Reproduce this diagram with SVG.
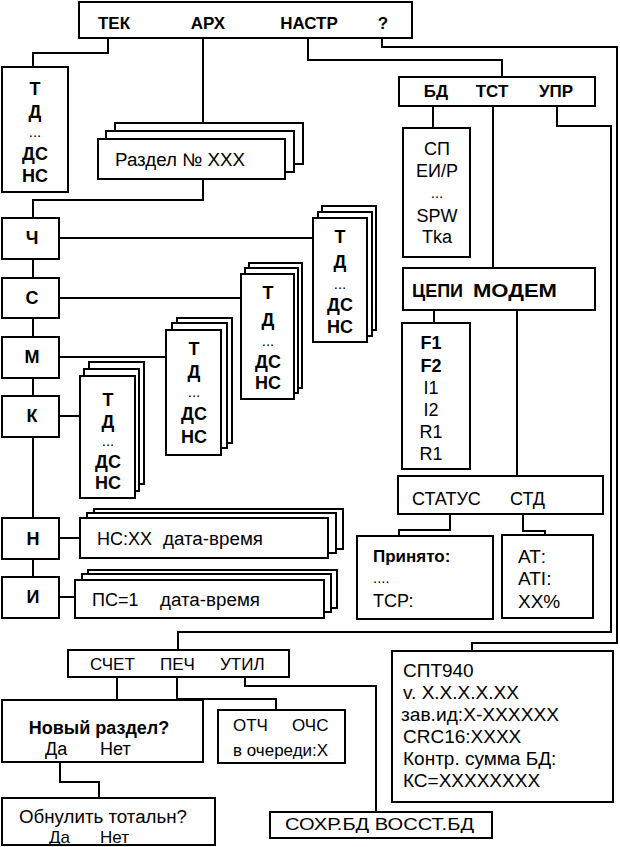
<svg xmlns="http://www.w3.org/2000/svg" width="620" height="847" viewBox="0 0 620 847">
<style>
.b{fill:#fff;stroke:#000;stroke-width:2}
.l{fill:none;stroke:#000;stroke-width:2}
text{font-family:"Liberation Sans",Arial,sans-serif;font-size:18px;fill:#000}
.w{font-weight:bold}
.m{text-anchor:middle}
.e{text-anchor:end}
.d{font-size:15px}
.s{font-size:17px}
.g{font-size:19px}
</style>
<rect width="620" height="847" fill="#fff"/>
<g id="connectors">
<path class="l" d="M108,38V53H33V67"/>
<path class="l" d="M203,38V123"/>
<path class="l" d="M203,179V200H33V218M33,259V278M33,318V337M33,378V396M33,437V518M33,559V577"/>
<path class="l" d="M59,238H313M59,298H241M59,357H166M59,416H80M59,538H80M59,597H75"/>
<path class="l" d="M308,38V60H502V77"/>
<path class="l" d="M382,38V47H617V643H472V651"/>
<path class="l" d="M557,106V126H611V632H178V650"/>
<path class="l" d="M433,106V128M493,106V268M434,310V323M517,310V476"/>
<path class="l" d="M450,514V530H399V536M523,514V531H545V535"/>
<path class="l" d="M117,677V700M60,762V782H99V798M177,677V699H276V710M245,677V686H376V812"/>
</g>
<g id="menu"><rect class="b" x="79" y="2" width="333" height="36"/>
<text class="w m s" x="114" y="29">ТЕК</text><text class="w m s" x="208" y="29">АРХ</text><text class="w m s" x="309" y="29">НАСТР</text><text class="w m s" x="383" y="29">?</text></g>
<g id="tek"><rect class="b" x="2" y="67" width="66" height="125"/>
<text class="w m" x="35" y="95">Т</text><text class="w m" x="35" y="118">Д</text><text class="m d" x="35" y="137">...</text><text class="w m" x="35" y="160">ДС</text><text class="w m" x="35" y="182">НС</text></g>
<g id="razdel"><rect class="b" x="115" y="123" width="188" height="41"/><rect class="b" x="106" y="131" width="188" height="41"/><rect class="b" x="98" y="139" width="187" height="40"/>
<text x="115" y="166" textLength="130" lengthAdjust="spacingAndGlyphs">Раздел № ХХХ</text></g>
<g id="ch"><rect class="b" x="2" y="218" width="57" height="41"/><text class="w m" x="32" y="244">Ч</text></g>
<g id="s"><rect class="b" x="2" y="278" width="57" height="40"/><text class="w m" x="32" y="304">С</text></g>
<g id="m"><rect class="b" x="2" y="337" width="57" height="41"/><text class="w m" x="32" y="363">М</text></g>
<g id="k"><rect class="b" x="2" y="396" width="57" height="41"/><text class="w m" x="32" y="422">К</text></g>
<g id="n"><rect class="b" x="2" y="518" width="57" height="41"/><text class="w m" x="33" y="545">Н</text></g>
<g id="i"><rect class="b" x="2" y="577" width="57" height="41"/><text class="w m" x="33" y="603">И</text></g>
<g id="stack-ch"><rect class="b" x="322" y="206" width="54" height="124"/><rect class="b" x="318" y="212" width="54" height="124"/><rect class="b" x="313" y="218" width="54" height="124"/>
<text class="w m" x="340" y="243">Т</text><text class="w m" x="340" y="268">Д</text><text class="m d" x="340" y="289">...</text><text class="w m" x="340" y="311">ДС</text><text class="w m" x="340" y="333">НС</text></g>
<g id="stack-s"><rect class="b" x="249" y="263" width="53" height="125"/><rect class="b" x="245" y="268" width="53" height="125"/><rect class="b" x="241" y="274" width="53" height="125"/>
<text class="w m" x="268" y="299">Т</text><text class="w m" x="268" y="326">Д</text><text class="m d" x="268" y="346">...</text><text class="w m" x="268" y="368">ДС</text><text class="w m" x="268" y="389">НС</text></g>
<g id="stack-m"><rect class="b" x="177" y="318" width="55" height="125"/><rect class="b" x="172" y="323" width="55" height="125"/><rect class="b" x="166" y="330" width="55" height="125"/>
<text class="w m" x="194" y="355">Т</text><text class="w m" x="194" y="378">Д</text><text class="m d" x="194" y="397">...</text><text class="w m" x="194" y="420">ДС</text><text class="w m" x="194" y="443">НС</text></g>
<g id="stack-k"><rect class="b" x="89" y="362" width="55" height="122"/><rect class="b" x="84" y="369" width="55" height="122"/><rect class="b" x="80" y="376" width="55" height="122"/>
<text class="w m" x="108" y="406">Т</text><text class="w m" x="108" y="428">Д</text><text class="m d" x="108" y="446">...</text><text class="w m" x="108" y="468">ДС</text><text class="w m" x="108" y="489">НС</text></g>
<g id="stack-n"><rect class="b" x="94" y="509" width="249" height="40"/><rect class="b" x="87" y="513" width="249" height="40"/><rect class="b" x="80" y="518" width="248" height="40"/>
<text x="97" y="545">НС:ХХ</text><text x="163" y="545" textLength="100" lengthAdjust="spacingAndGlyphs">дата-время</text></g>
<g id="stack-i"><rect class="b" x="88" y="570" width="249" height="38"/><rect class="b" x="82" y="574" width="249" height="38"/><rect class="b" x="75" y="580" width="249" height="38"/>
<text x="92" y="606">ПС=1</text><text x="160" y="606" textLength="100" lengthAdjust="spacingAndGlyphs">дата-время</text></g>
<g id="bd"><rect class="b" x="399" y="77" width="196" height="29"/>
<text class="w m s" x="436" y="97">БД</text><text class="w m s" x="492" y="97">ТСТ</text><text class="w m s" x="556" y="97">УПР</text></g>
<g id="sp"><rect class="b" x="403" y="128" width="67" height="129"/>
<text class="m" x="437" y="155">СП</text><text class="m" x="437" y="177">ЕИ/Р</text><text class="m d" x="437" y="198">...</text><text class="m" x="437" y="222">SPW</text><text class="m" x="437" y="243">Tka</text></g>
<g id="cepi"><rect class="b" x="403" y="268" width="192" height="42"/>
<text class="w" x="412" y="297">ЦЕПИ</text><text class="w" x="473" y="297" textLength="84" lengthAdjust="spacingAndGlyphs">МОДЕМ</text></g>
<g id="f"><rect class="b" x="402" y="323" width="68" height="146"/>
<text class="w m" x="431" y="349">F1</text><text class="w m" x="431" y="372">F2</text><text class="m" x="431" y="394">I1</text><text class="m" x="431" y="416">I2</text><text class="m" x="431" y="438">R1</text><text class="m" x="431" y="460">R1</text></g>
<g id="status"><rect class="b" x="398" y="476" width="205" height="38"/>
<text x="412" y="505">СТАТУС</text><text x="510" y="505">СТД</text></g>
<g id="prin"><rect class="b" x="357" y="536" width="136" height="83"/>
<text class="w s" x="373" y="562">Принято:</text><text class="d" x="373" y="583">....</text><text x="373" y="607">ТСР:</text></g>
<g id="at"><rect class="b" x="502" y="535" width="91" height="83"/>
<text class="g" x="518" y="563">АТ:</text><text class="g" x="518" y="585">ATI:</text><text class="g" x="518" y="608">XX%</text></g>
<g id="spt"><rect class="b" x="392" y="651" width="221" height="151"/>
<text class="g" x="403" y="677">СПТ940</text><text class="g" x="403" y="699">v. X.X.X.X.XX</text><text class="g" x="401" y="721" textLength="158" lengthAdjust="spacingAndGlyphs">зав.ид:Х-ХХХХХХ</text><text class="g" x="403" y="743">CRC16:XXXX</text><text class="g" x="403" y="765">Контр. сумма БД:</text><text class="g" x="403" y="787">КС=ХХХХХХХХ</text></g>
<g id="schet"><rect class="b" x="68" y="650" width="221" height="27"/>
<text class="s" x="90" y="670">СЧЕТ</text><text class="s" x="160" y="670">ПЕЧ</text><text class="s" x="220" y="670">УТИЛ</text></g>
<g id="novy"><rect class="b" x="2" y="700" width="201" height="62"/>
<text class="w m" x="99" y="734">Новый раздел?</text><text x="45" y="755">Да</text><text x="100" y="755">Нет</text></g>
<g id="obnul"><rect class="b" x="2" y="798" width="213" height="47"/>
<text x="19" y="823" textLength="168" lengthAdjust="spacingAndGlyphs">Обнулить тотальн?</text><text class="s" x="49" y="843">Да</text><text class="s" x="100" y="843">Нет</text></g>
<g id="otch"><rect class="b" x="218" y="710" width="127" height="53"/>
<text class="s" x="233" y="731">ОТЧ</text><text class="s" x="292" y="731">ОЧС</text><text class="s" x="233" y="756">в очереди:Х</text></g>
<g id="sohr"><rect class="b" x="270" y="812" width="222" height="26"/>
<text class="s" x="285" y="830" textLength="189" lengthAdjust="spacingAndGlyphs">СОХР.БД ВОССТ.БД</text></g>
</svg>
